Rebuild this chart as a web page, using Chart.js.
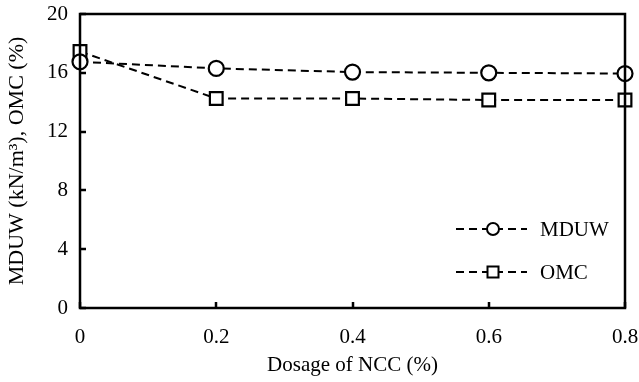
<!DOCTYPE html>
<html>
<head>
<meta charset="utf-8">
<script src="https://cdn.jsdelivr.net/npm/chart.js@4"></script>
<style>
  body { margin: 0; background: #fff; }
  #wrap { width: 639px; height: 382px; }
</style>
</head>
<body>
<div id="wrap"><canvas id="lineChart" width="639" height="382"></canvas></div>
<script>
const CHART = document.getElementById("lineChart");

// values
const dosage = [0, 0.2, 0.4, 0.6, 0.8];
const mduw = [16.75, 16.3, 16.05, 16.0, 15.95];
const omc = [17.45, 14.25, 14.25, 14.15, 14.15];
const xTicks = [0, 0.2, 0.4, 0.6, 0.8];
const yTicks = [0, 4, 8, 12, 16, 20];

const FONT = "'Liberation Serif', 'Times New Roman', serif";

// frame, inward ticks and legend
const framePlugin = {
    id: "frame",
    afterDraw(chart) {
        const ctx = chart.ctx;
        const a = chart.chartArea;
        const xs = chart.scales.x, ys = chart.scales.y;
        ctx.save();
        ctx.strokeStyle = "#000";
        ctx.lineWidth = 2.5;
        ctx.setLineDash([]);
        ctx.strokeRect(a.left, a.top, a.right - a.left, a.bottom - a.top);
        ctx.beginPath();
        xTicks.forEach(v => {
            const px = Math.round(xs.getPixelForValue(v));
            ctx.moveTo(px, a.bottom);
            ctx.lineTo(px, a.bottom - 6);
        });
        yTicks.forEach(v => {
            const py = Math.round(ys.getPixelForValue(v));
            ctx.moveTo(a.left, py);
            ctx.lineTo(a.left + 6, py);
        });
        ctx.stroke();

        // legend
        const items = [
            { label: "MDUW", style: "circle", y: 229 },
            { label: "OMC", style: "rect", y: 272 }
        ];
        ctx.font = "21px " + FONT;
        ctx.textBaseline = "middle";
        ctx.fillStyle = "#000";
        items.forEach(it => {
            ctx.lineWidth = 2;
            ctx.setLineDash([8, 5]);
            ctx.beginPath();
            ctx.moveTo(456, it.y);
            ctx.lineTo(527, it.y);
            ctx.stroke();
            ctx.setLineDash([]);
            ctx.fillStyle = "#fff";
            ctx.beginPath();
            if (it.style === "circle") {
                ctx.arc(493, it.y, 6, 0, Math.PI * 2);
            } else {
                ctx.rect(487.5, it.y - 5.5, 11, 11);
            }
            ctx.fill();
            ctx.stroke();
            ctx.fillStyle = "#000";
            ctx.fillText(it.label, 540, it.y + 1);
        });
        ctx.restore();
    }
};

const lineChart = new Chart(CHART, {
    type: "line",
    data: {
        datasets: [{
            label: "MDUW",
            data: dosage.map((d, i) => ({ x: d, y: mduw[i] })),
            borderColor: "#000",
            borderWidth: 2,
            borderDash: [8, 5],
            pointStyle: "circle",
            pointRadius: 7.5,
            pointBorderWidth: 2.2,
            pointBackgroundColor: "#fff",
            pointBorderColor: "#000",
            clip: false
        }, {
            label: "OMC",
            data: dosage.map((d, i) => ({ x: d, y: omc[i] })),
            borderColor: "#000",
            borderWidth: 2,
            borderDash: [8, 5],
            pointStyle: "rect",
            pointRadius: 9,
            pointBorderWidth: 2.2,
            pointBackgroundColor: "#fff",
            pointBorderColor: "#000",
            clip: false
        }]
    },
    options: {
        responsive: false,
        animation: false,
        layout: { padding: { top: 14, right: 14, left: 0, bottom: 0 } },
        plugins: { legend: { display: false }, tooltip: { enabled: false } },
        scales: {
            x: {
                type: "linear",
                min: 0,
                max: 0.8,
                afterBuildTicks: s => { s.ticks = xTicks.map(v => ({ value: v })); },
                afterFit: s => { s.height = 74; s.paddingLeft = 0; s.paddingRight = 0; },
                grid: { display: false, drawTicks: false },
                border: { display: false },
                ticks: {
                    color: "#000",
                    padding: 17,
                    font: { family: FONT, size: 21 },
                    callback: v => String(v)
                },
                title: {
                    display: true,
                    text: "Dosage of NCC (%)",
                    color: "#000",
                    font: { family: FONT, size: 21 },
                    padding: { top: 8 }
                }
            },
            y: {
                min: 0,
                max: 20,
                afterBuildTicks: s => { s.ticks = yTicks.map(v => ({ value: v })); },
                afterFit: s => { s.width = 80; s.paddingTop = 0; s.paddingBottom = 0; },
                grid: { display: false, drawTicks: false },
                border: { display: false },
                ticks: {
                    color: "#000",
                    padding: 12,
                    font: { family: FONT, size: 21 }
                },
                title: {
                    display: true,
                    text: "MDUW (kN/m³), OMC (%)",
                    color: "#000",
                    font: { family: FONT, size: 22 },
                    padding: { top: 4, bottom: 2 }
                }
            }
        }
    },
    plugins: [framePlugin]
});
</script>
</body>
</html>
